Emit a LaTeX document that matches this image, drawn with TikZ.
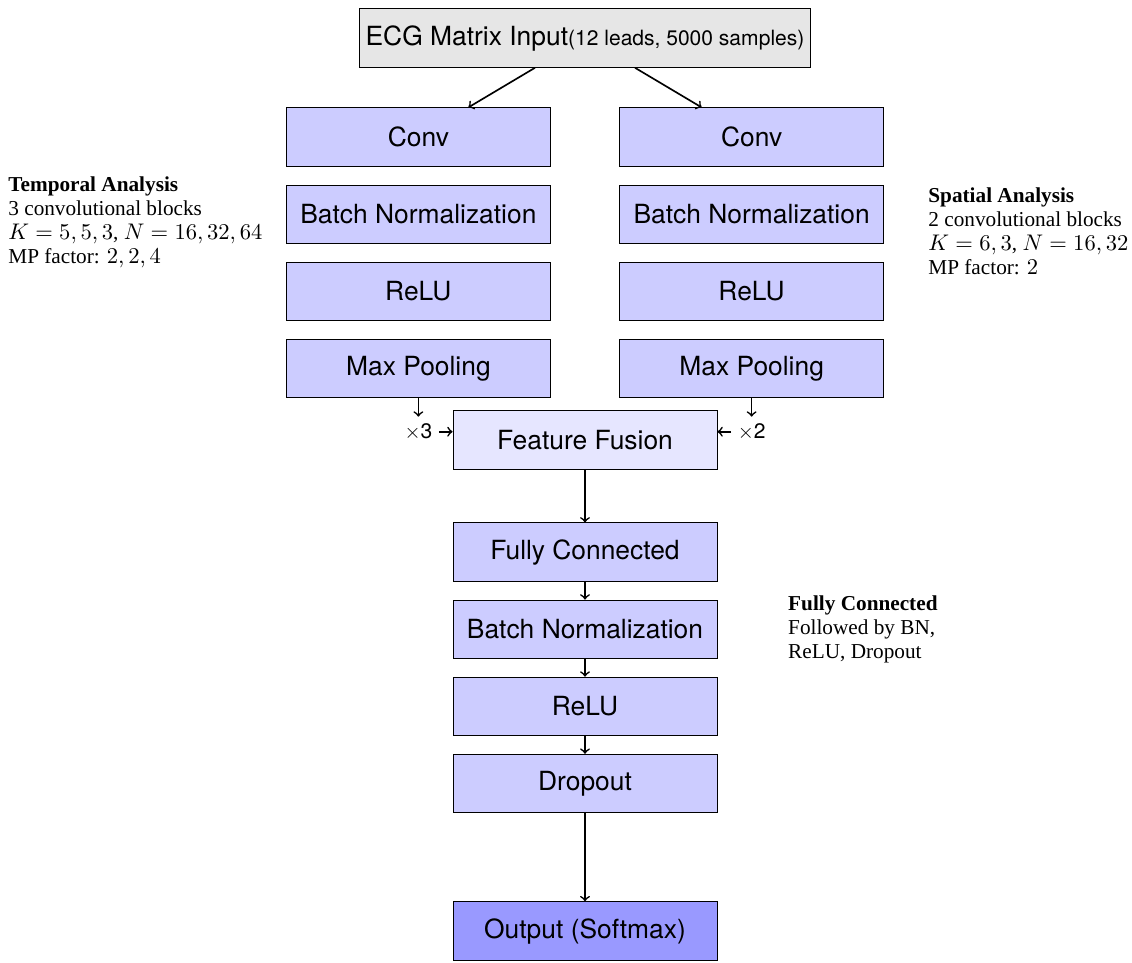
\documentclass[tikz,border=0pt]{standalone}
\usepackage[no-math]{fontspec}
\setmainfont[Scale=0.92]{Liberation Serif}
\setsansfont{TeX Gyre Heros}
\usetikzlibrary{positioning}
\definecolor{LayerBlue}{HTML}{CCCCFF}
\definecolor{FuseBlue}{HTML}{E6E6FF}
\definecolor{OutBlue}{HTML}{9999FF}
\definecolor{InputGray}{HTML}{E6E6E6}

\begin{document}
\begin{tikzpicture}[
  layerbox/.style={
    draw=black, fill=LayerBlue,
    minimum width=4.5cm, minimum height=1cm,
    align=center, font=\sffamily\fontsize{12.8}{15}\selectfont
  },
  annot/.style={align=left, inner sep=0pt, font=\fontsize{11.2}{11.7}\selectfont},
  reps/.style={font=\sffamily\fontsize{10.2}{12}\selectfont},
  arr/.style={->, thick}
]
  \useasboundingbox (-9.971,0.648) rectangle (9.323,-15.749);
  \node[layerbox, fill=InputGray] (inp) at (0,0) {ECG Matrix Input{\fontsize{10.2}{12}\selectfont(12 leads, 5000 samples)}};
  % temporal branch
  \node[layerbox] (tconv) at (-2.84,-1.69) {Conv};
  \node[layerbox, below=0.3cm of tconv] (tbn) {Batch Normalization};
  \node[layerbox, below=0.3cm of tbn] (trelu) {ReLU};
  \node[layerbox, below=0.3cm of trelu] (tpool) {Max Pooling};
  % spatial branch
  \node[layerbox] (sconv) at (2.84,-1.69) {Conv};
  \node[layerbox, below=0.3cm of sconv] (sbn) {Batch Normalization};
  \node[layerbox, below=0.3cm of sbn] (srelu) {ReLU};
  \node[layerbox, below=0.3cm of srelu] (spool) {Max Pooling};
  % fusion and head
  \node[layerbox, fill=FuseBlue] (fuse) at (0,-6.85) {Feature Fusion};
  \node[layerbox, below=0.9cm of fuse] (fc) {Fully Connected};
  \node[layerbox, below=0.3cm of fc] (fcbn) {Batch Normalization};
  \node[layerbox, below=0.3cm of fcbn] (fcrelu) {ReLU};
  \node[layerbox, below=0.3cm of fcrelu] (drop) {Dropout};
  \node[layerbox, fill=OutBlue, below=1.5cm of drop] (out) {Output (Softmax)};
  % repeat labels
  \node[reps, yshift=0.14cm] (treps) at (tpool |- fuse) {$\times$3};
  \node[reps, yshift=0.14cm] (sreps) at (spool |- fuse) {$\times$2};
  % notes
  \node[annot, anchor=west] (tnote) at (-9.835,-3.14) {\textbf{Temporal Analysis}\\3 convolutional blocks\\$K=5,5,3$, $N=16,32,64$\\MP factor: $2,2,4$};
  \node[annot, anchor=west] (snote) at (5.846,-3.29) {\textbf{Spatial Analysis}\\2 convolutional blocks\\$K=6,3$, $N=16,32$\\MP factor: $2$};
  \node[annot, right=1.2cm of fcbn] (fcnote) {\textbf{Fully Connected}\\Followed by BN,\\ReLU, Dropout};
  \draw[arr] (inp) -- (tconv);
  \draw[arr] (inp) -- (sconv);
  \draw[arr] (tpool) -- (treps);
  \draw[arr] (spool) -- (sreps);
  \draw[arr] (treps.east) -- (treps.east -| fuse.west);
  \draw[arr] (sreps.west) -- (sreps.west -| fuse.east);
  \draw[arr] (fuse) -- (fc);
  \draw[arr] (fc) -- (fcbn);
  \draw[arr] (fcbn) -- (fcrelu);
  \draw[arr] (fcrelu) -- (drop);
  \draw[arr] (drop) -- (out);
\end{tikzpicture}
\end{document}
